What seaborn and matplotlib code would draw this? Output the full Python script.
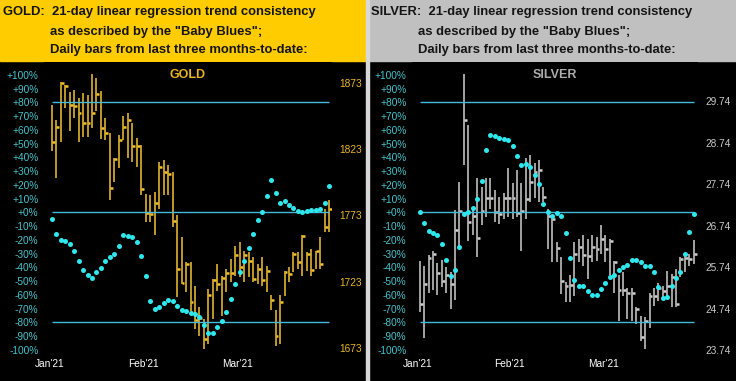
import matplotlib
matplotlib.use('Agg')

import matplotlib.pyplot as plt
import seaborn as sns
import pandas as pd
import numpy as np
from matplotlib.patches import Rectangle

# daily bars (high / low / close) and the "Baby Blues" trend consistency (%)
gold_high = [1856.4, 1845.0, 1873.3, 1871.5, 1866.0, 1867.7, 1861.4, 1865.2, 1863.9, 1879.1,
             1876.5, 1866.4, 1846.3, 1834.9, 1816.0, 1833.7, 1847.5, 1850.0, 1842.5, 1831.1,
             1826.1, 1789.5, 1788.3, 1790.8, 1813.5, 1814.7, 1811.0, 1805.9, 1773.1, 1756.7,
             1737.8, 1737.8, 1720.2, 1703.8, 1694.9, 1717.6, 1725.2, 1736.6, 1727.7, 1732.8,
             1740.3, 1750.4, 1752.9, 1745.9, 1745.4, 1741.6, 1736.6, 1741.6, 1735.3, 1712.8,
             1701.5, 1712.8, 1731.5, 1734.0, 1745.4, 1745.4, 1758.5, 1745.4, 1747.9, 1746.6,
             1756.7, 1778.2, 1784.5]
gold_low = [1821.5, 1800.9, 1828.6, 1854.0, 1836.2, 1846.3, 1828.6, 1832.4, 1832.4, 1838.7,
            1851.3, 1830.4, 1829.9, 1784.5, 1798.3, 1808.9, 1829.9, 1816.0, 1813.5, 1809.7,
            1788.3, 1768.1, 1768.1, 1758.5, 1778.2, 1788.3, 1788.3, 1764.3, 1711.3, 1721.4,
            1715.1, 1701.2, 1687.4, 1682.3, 1672.2, 1676.0, 1694.9, 1716.4, 1697.5, 1715.1,
            1722.7, 1727.7, 1726.5, 1722.7, 1726.5, 1722.7, 1721.4, 1720.2, 1715.1, 1702.0,
            1675.0, 1676.3, 1712.6, 1722.7, 1730.3, 1732.8, 1727.7, 1731.5, 1727.7, 1732.8,
            1732.8, 1760.5, 1760.5]
gold_close = [1828.4, 1839.5, 1872.8, 1870.7, 1856.4, 1855.6, 1850.0, 1842.5, 1842.5, 1850.0,
              1864.7, 1838.7, 1834.9, 1793.8, 1815.2, 1829.9, 1839.5, 1845.0, 1825.6, 1825.3,
              1793.3, 1775.1, 1774.4, 1782.7, 1809.4, 1805.9, 1803.9, 1768.8, 1732.8, 1721.9,
              1736.8, 1708.1, 1694.4, 1696.2, 1679.8, 1713.1, 1724.7, 1721.4, 1725.7, 1729.5,
              1729.7, 1743.4, 1734.0, 1743.4, 1738.6, 1725.2, 1732.8, 1724.7, 1731.0, 1709.6,
              1682.1, 1707.8, 1730.3, 1728.7, 1744.1, 1738.3, 1757.5, 1744.1, 1732.3, 1745.9,
              1736.3, 1764.3, 1777.9]
gold_trend = [-4.6, -15.5, -19.9, -20.8, -23.0, -28.1, -35.4, -41.7, -45.3, -47.8,
              -43.4, -40.2, -35.4, -32.5, -30.1, -24.2, -16.2, -17.0, -17.7, -21.6,
              -31.5, -46.1, -64.2, -70.1, -68.8, -65.7, -63.8, -64.5, -67.9, -71.0,
              -72.0, -73.0, -73.9, -75.9, -81.7, -87.5, -87.5, -83.4, -78.8, -72.5,
              -63.0, -51.9, -43.4, -35.4, -25.7, -15.8, -5.6, 0.2, 11.9, 23.8,
              14.3, 7.0, 8.0, 5.6, 3.4, 1.2, 0.5, 1.2, 1.9, 1.5,
              2.7, 7.0, 19.4]

silver_high = [25.88, 25.76, 26.04, 26.13, 25.83, 25.91, 25.74, 25.62, 27.12, 27.80,
               30.39, 29.17, 27.15, 27.88, 27.68, 27.88, 27.88, 27.60, 27.44, 27.52,
               28.12, 27.76, 28.08, 27.76, 28.37, 28.45, 28.24, 28.32, 27.68, 27.15,
               26.95, 26.34, 25.99, 25.38, 25.54, 26.35, 26.42, 26.51, 26.42, 26.51,
               26.47, 26.75, 26.51, 26.42, 25.90, 25.54, 25.62, 25.25, 25.25, 24.77,
               24.57, 24.53, 25.13, 25.25, 25.37, 25.29, 25.66, 25.58, 25.70, 25.98,
               26.00, 26.06, 26.39]
silver_low = [24.65, 24.04, 25.13, 25.18, 25.06, 25.26, 25.13, 24.74, 24.94, 26.22,
              28.20, 26.38, 26.51, 25.98, 26.75, 26.95, 27.15, 26.83, 26.79, 26.91,
              26.95, 26.91, 26.95, 26.14, 26.91, 27.31, 27.40, 27.31, 27.31, 26.18,
              25.86, 25.86, 25.10, 24.90, 24.89, 25.05, 25.86, 25.78, 25.45, 25.86,
              25.90, 26.06, 25.86, 25.54, 25.13, 24.44, 25.05, 24.48, 24.44, 24.36,
              23.96, 23.76, 24.28, 24.81, 24.93, 24.97, 25.05, 24.77, 24.77, 25.50,
              25.62, 25.78, 25.82]
silver_close = [24.86, 25.33, 25.96, 26.05, 25.61, 25.41, 25.54, 25.34, 26.64, 27.10,
                29.29, 26.83, 26.97, 26.44, 27.10, 27.40, 27.40, 27.06, 27.03, 27.41,
                27.40, 27.41, 27.05, 27.10, 27.38, 27.80, 28.04, 28.08, 27.44, 26.97,
                26.91, 26.21, 25.40, 25.28, 25.31, 26.07, 26.22, 26.04, 26.02, 26.22,
                26.18, 26.42, 26.18, 26.38, 25.86, 25.18, 25.18, 25.13, 25.13, 24.73,
                24.06, 24.44, 25.05, 25.05, 25.24, 25.17, 25.29, 25.50, 24.85, 25.94,
                25.95, 25.94, 26.07]
silver_trend = [0.2, -7.8, -13.6, -14.8, -16.2, -22.8, -34.4, -46.1, -41.7, -25.0,
                -1.0, 0.5, 3.4, 9.9, 23.0, 45.3, 56.5, 55.8, 53.8, 53.3,
                52.6, 48.2, 41.0, 34.4, 34.9, 33.0, 27.4, 20.8, 6.3, 0.2,
                -2.9, -0.2, -2.4, -15.0, -33.0, -49.2, -53.3, -53.3, -57.5, -59.9,
                -59.9, -55.8, -51.2, -47.0, -45.3, -41.7, -39.5, -38.1, -34.4, -34.4,
                -36.1, -38.8, -38.8, -43.2, -54.5, -62.3, -61.6, -53.3, -47.8, -43.4,
                -30.3, -14.3, -1.0]

month_labels = ["Jan'21", "Feb'21", "Mar'21"]
month_pos = [-0.4, 20.4, 41.5]
pct_ticks = list(range(-100, 101, 10))
gold_ticks = [1673, 1723, 1773, 1823, 1873]
silver_ticks = [23.74, 24.74, 25.74, 26.74, 27.74, 28.74, 29.74]

W, H = 736, 381
sns.set_style('dark')
plt.rcParams['font.family'] = ['Liberation Sans', 'DejaVu Sans']

CYAN = '#2ee8ee'
LINE = '#45b8dc'
PCT = '#48c4cc'

fig = plt.figure(figsize=(W / 100, H / 100), dpi=100, facecolor='black')


def rect(x0, y0, x1, y1):
    return [x0 / W, 1 - y1 / H, (x1 - x0) / W, (y1 - y0) / H]


def panel(box, xlim, high, low, close, trend, bar_col, plim, pticks, pfmt, pcol, title, tcol):
    df = pd.DataFrame({'day': np.arange(len(close)), 'high': high, 'low': low,
                       'close': close, 'trend': trend})
    ax = fig.add_axes(box)
    ax.set_facecolor('black')
    ax.vlines(df.day, df.low, df.high, color=bar_col, lw=1.1)
    ax.hlines(df.close, df.day, df.day + 0.65, color=bar_col, lw=1.8)
    ax.set_xlim(xlim)
    ax.set_ylim(plim)
    ax.set_xticks(month_pos)
    ax.set_xticklabels(month_labels)
    ax.tick_params(axis='x', length=0, pad=3, labelsize=7.3, labelcolor='white')
    ax.grid(False)

    ax2 = ax.twinx()
    ax2.set_facecolor('none')
    n = len(df)
    ax2.hlines([80, 0, -80], 0, n - 1, color=LINE, lw=1.0)
    sns.scatterplot(x='day', y='trend', data=df, ax=ax2, color=CYAN, s=13,
                    linewidth=0, zorder=3)
    ax2.set_ylim(-103.8, 109.3)
    ax2.set_yticks(pct_ticks)
    ax2.set_yticklabels(['%+d%%' % v for v in pct_ticks])
    ax2.yaxis.set_ticks_position('left')
    ax2.tick_params(axis='y', length=0, pad=4, labelsize=7.3, labelcolor=PCT,
                    labelleft=True, labelright=False)
    ax2.set_xlabel('')
    ax2.set_ylabel('')
    ax2.grid(False)

    # price scale on the right (after twinx, which resets it to the left)
    ax.set_yticks(pticks)
    ax.set_yticklabels([pfmt % v for v in pticks])
    ax.yaxis.set_ticks_position('right')
    ax.tick_params(axis='y', length=0, pad=5, labelsize=7.3, labelcolor=pcol,
                   labelleft=False, labelright=True)

    for a in (ax, ax2):
        for s in a.spines.values():
            s.set_visible(False)
    ax2.text(0.5, 0.955, title, transform=ax2.transAxes, ha='center', va='center',
             color=tcol, fontsize=9, fontweight='bold')


panel(rect(44, 62, 332, 355), (-1.72, 62.6), gold_high, gold_low, gold_close, gold_trend,
      '#f2c232', (1668.0, 1888.5), gold_ticks, '%d', '#e8b828', 'GOLD', '#e8b420')
panel(rect(412, 62, 698, 355), (-1.74, 62.96), silver_high, silver_low, silver_close,
      silver_trend, '#cfcfcf', (23.624, 30.685), silver_ticks, '%.2f', '#c8c8c8',
      'SILVER', '#acacac')

# headers
fig.add_artist(Rectangle((0, 1 - 61 / H), 366 / W, 61 / H, transform=fig.transFigure,
                         color='#ffcc00', zorder=0))
fig.add_artist(Rectangle((369 / W, 1 - 61 / H), (W - 369) / W, 61 / H,
                         transform=fig.transFigure, color='#c0c0c0', zorder=0))
fig.add_artist(Rectangle((366 / W, 0), 3 / W, 1, transform=fig.transFigure,
                         color='#d8d8d8', zorder=0))

hdr = dict(fontsize=9.4, fontweight='bold', color='#141414', va='center')
fig.text(3 / W, 1 - 12 / H, 'GOLD:  21-day linear regression trend consistency', **hdr)
fig.text(50 / W, 1 - 31.5 / H, 'as described by the "Baby Blues";', **hdr)
fig.text(50 / W, 1 - 50 / H, 'Daily bars from last three months-to-date:', **hdr)
fig.text(371 / W, 1 - 12 / H, 'SILVER:  21-day linear regression trend consistency', **hdr)
fig.text(418 / W, 1 - 31.5 / H, 'as described by the "Baby Blues";', **hdr)
fig.text(418 / W, 1 - 50 / H, 'Daily bars from last three months-to-date:', **hdr)

plt.savefig('out.png', dpi=100, facecolor='black')
